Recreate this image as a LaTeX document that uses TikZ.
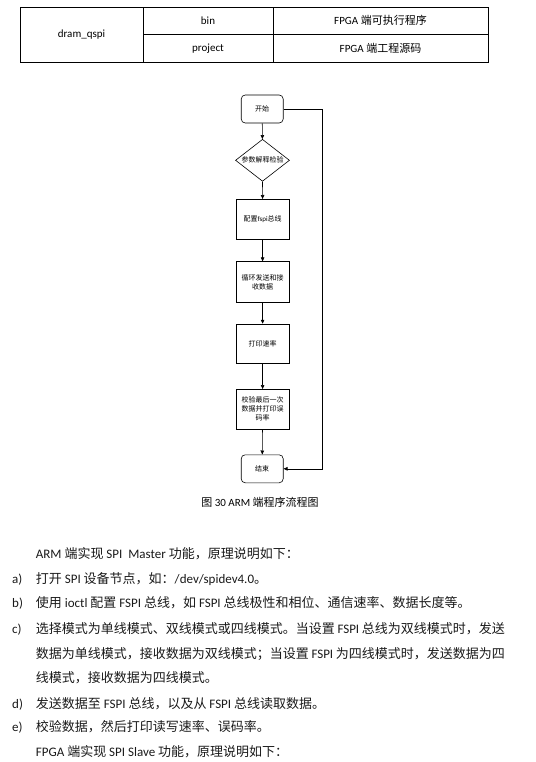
\documentclass[tikz,border=0pt]{standalone}
\usepackage{fontspec}
\setmainfont{Carlito}
\newfontfamily\cjk{Noto Sans CJK SC}
\usetikzlibrary{shapes.geometric, arrows.meta, positioning}

% Chinese characters switch to the CJK font on their own
\XeTeXinterchartokenstate=1
\newXeTeXintercharclass\zhclass
\newcount\zhcode
\def\setzhrange#1#2{\zhcode=#1 \loop\XeTeXcharclass\zhcode=\zhclass
  \ifnum\zhcode<#2 \advance\zhcode by 1 \repeat}
\setzhrange{"4E00}{"9FFF}
\setzhrange{"3000}{"303F}
\setzhrange{"FF00}{"FFEF}
\XeTeXinterchartoks 0 \zhclass = {\cjk}
\XeTeXinterchartoks 4095 \zhclass = {\cjk}
\XeTeXinterchartoks \zhclass 0 = {\rmfamily}
\XeTeXinterchartoks \zhclass 4095 = {\rmfamily}
\XeTeXinterchartoks \zhclass \zhclass = {\hskip 0pt plus 1pt}

\begin{document}
\begin{tikzpicture}[x=1pt, y=-1pt,
    cell/.style={rectangle, draw, line width=0.8pt, inner sep=0pt,
                 font=\fontsize{11}{13}\selectfont},
    stepbox/.style={rectangle, draw, line width=0.6pt, minimum width=53pt,
                    minimum height=40pt, align=center, inner sep=1pt,
                    font=\fontsize{7}{9}\selectfont},
    ends/.style={rectangle, rounded corners=4pt, draw, line width=0.6pt,
                 minimum width=42pt, minimum height=28pt,
                 font=\fontsize{7}{9}\selectfont},
    check/.style={diamond, draw, line width=0.6pt, minimum width=54pt,
                  minimum height=42pt, inner sep=0pt,
                  font=\fontsize{7}{9}\selectfont},
    flow/.style={line width=0.6pt, -{Triangle[length=4pt, width=3.5pt]}},
    body/.style={anchor=base west, inner sep=0pt, text=black!90,
                 font=\fontsize{13}{15}\selectfont},
]
\useasboundingbox (0,0) rectangle (535,762);

% table
\node[cell, minimum width=123pt, minimum height=55pt]   (dq)   at (81.5,34.5)   {dram\_qspi};
\node[cell, minimum width=130pt, minimum height=27.5pt] (bin)  at (208,20.75)   {bin};
\node[cell, minimum width=130pt, minimum height=27.5pt] (prj)  at (208,48.25)   {project};
\node[cell, minimum width=215pt, minimum height=27.5pt] (binx) at (380.5,20.75) {FPGA 端可执行程序};
\node[cell, minimum width=215pt, minimum height=27.5pt] (prjx) at (380.5,48.25) {FPGA 端工程源码};

% flow chart
\node[ends]    (start)  at (262.2,109)   {开始};
\node[check]   (chk)    at (262.5,160.3) {\makebox[0pt]{参数解释检验}};
\node[stepbox] (cfg)    at (262.6,219.3) {配置fspi总线};
\node[stepbox, minimum height=40.6pt] (xfer)   at (262.6,282)   {循环发送和接\\收数据};
\node[stepbox, minimum height=39.3pt] (rate)   at (262.6,343.7) {打印速率};
\node[stepbox, minimum height=39.7pt] (verify) at (262.6,409.2) {校验最后一次\\数据并打印误\\码率};
\node[ends]    (finish) at (262.2,468.8) {结束};
\coordinate (back) at (322.3,109);

\draw[flow] (start) -- (chk);
\draw[flow] (chk) -- (cfg);
\draw[flow] (cfg) -- (xfer);
\draw[flow] (xfer) -- (rate);
\draw[flow] (rate) -- (verify);
\draw[flow] (verify) -- (finish);
\draw[flow] (start.east) -- (back) |- (finish.east);

\node[font=\fontsize{11}{13}\selectfont] (cap) at (260,502) {图 30 ARM 端程序流程图};

% text below
\node[body] (p1) at (35.7,558)   {ARM 端实现 SPI\ \ Master 功能，原理说明如下：};
\node[body] (la) at (12,583.7)   {a)};
\node[body] (ta) at (35.7,583.7) {打开 SPI 设备节点，如：/dev/spidev4.0。};
\node[body] (lb) at (12,607.4)   {b)};
\node[body] (tb) at (35.7,607.4) {使用 ioctl 配置 FSPI 总线，如 FSPI 总线极性和相位、通信速率、数据长度等。};
\node[body] (lc) at (12,633)     {c)};
\node[body] (tc) at (35.7,633)   {\makebox[469pt][s]{选择模式为单线模式、双线模式或四线模式。当设置 FSPI 总线为双线模式时，发送}};
\node[body] (tc2) at (35.7,658)  {\makebox[469pt][s]{数据为单线模式，接收数据为双线模式；当设置 FSPI 为四线模式时，发送数据为四}};
\node[body] (tc3) at (35.7,682)  {线模式，接收数据为四线模式。};
\node[body] (ld) at (12,708)     {d)};
\node[body] (td) at (35.7,708)   {发送数据至 FSPI 总线，以及从 FSPI 总线读取数据。};
\node[body] (le) at (12,731.4)   {e)};
\node[body] (te) at (35.7,731.4) {校验数据，然后打印读写速率、误码率。};
\node[body] (p2) at (35.7,756.4) {FPGA 端实现 SPI Slave 功能，原理说明如下：};
\end{tikzpicture}
\end{document}
